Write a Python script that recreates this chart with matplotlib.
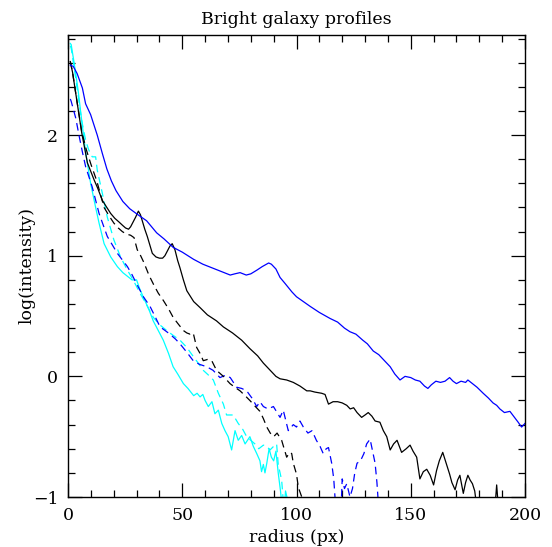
import matplotlib
matplotlib.use("Agg")
import matplotlib.pyplot as plt
from matplotlib.ticker import MultipleLocator

plt.rcParams['font.family'] = ['DejaVu Serif']
plt.rcParams['lines.scale_dashes'] = False

title = "Bright galaxy profiles"
xlabel = "radius (px)"
ylabel = "log(intensity)"

# Galaxy A (blue solid)
blue_solid_x = [1, 2.3, 4, 6.3, 7.7, 9.9, 12.8, 15, 17, 19, 21, 24, 27, 30.6, 34.4, 38.8, 42, 46, 50, 55,
                59, 63, 67, 71, 73, 75.3, 78, 80, 82.6, 85, 87.8, 89, 91, 92.8, 95, 98, 100, 103, 106, 110,
                114.7, 118, 121, 123.4, 126, 129, 131, 133.6, 136, 138.5, 141, 143, 145.3, 147.5, 150, 152,
                154, 156, 157.5, 159, 161, 163, 165, 167, 168.5, 170, 172, 174, 175, 177, 179, 181.7, 184,
                186, 187.6, 189, 191, 193.4, 195, 197, 198.5, 200]
blue_solid_y = [2.58, 2.57, 2.51, 2.39, 2.26, 2.17, 2.0, 1.85, 1.72, 1.62, 1.54, 1.45, 1.39, 1.34, 1.29,
                1.19, 1.14, 1.07, 1.03, 0.97, 0.93, 0.90, 0.87, 0.84, 0.85, 0.86, 0.84, 0.85, 0.88, 0.91,
                0.94, 0.93, 0.89, 0.82, 0.77, 0.70, 0.66, 0.62, 0.58, 0.53, 0.48, 0.45, 0.40, 0.37, 0.35,
                0.30, 0.27, 0.21, 0.18, 0.13, 0.08, 0.02, -0.03, 0.00, -0.01, -0.03, -0.04, -0.08, -0.10,
                -0.07, -0.04, -0.05, -0.04, -0.01, -0.04, -0.06, -0.04, -0.05, -0.03, -0.06, -0.09, -0.14,
                -0.18, -0.22, -0.24, -0.27, -0.30, -0.29, -0.33, -0.38, -0.42, -0.39]

# Galaxy B (black solid)
black_solid_x = [1, 2, 4, 6, 8.5, 11.4, 13, 15, 17, 18.7, 20.5, 22.3, 24, 25.2, 26.5, 27.4, 28.5, 29.6,
                 30.8, 31.7, 32.5, 33.6, 34.7, 35.8, 36.9, 38.5, 40, 41.4, 42.4, 43.5, 44.6, 45.6, 46.8,
                 48, 49, 50.5, 52, 55, 57.8, 61, 65, 68, 72, 76, 79.6, 83, 85.5, 87, 89, 91, 92.8, 95.7,
                 98.6, 101.5, 104.5, 106, 108, 111, 112.5, 114, 116, 118, 120, 122, 123.5, 125, 126.5,
                 128.5, 130, 131.4, 133, 134.4, 136.5, 138, 139.5, 141, 142.5, 144, 145, 146, 148, 149.7,
                 151, 152.6, 154, 155.5, 157, 158.5, 160, 161.3, 162.5, 164, 165.5, 167, 168, 169.4,
                 170.5, 171.5, 172.3, 173, 174, 175, 176, 177, 178, 179]
black_solid_y = [2.61, 2.52, 2.27, 2.02, 1.77, 1.63, 1.56, 1.46, 1.40, 1.35, 1.31, 1.28, 1.25, 1.23,
                 1.22, 1.24, 1.28, 1.32, 1.37, 1.34, 1.29, 1.22, 1.16, 1.09, 1.02, 0.99, 0.98, 0.98, 1.00,
                 1.04, 1.08, 1.10, 1.05, 0.96, 0.90, 0.80, 0.71, 0.62, 0.57, 0.51, 0.46, 0.41, 0.36, 0.30,
                 0.23, 0.17, 0.11, 0.08, 0.04, 0.00, -0.02, -0.03, -0.05, -0.08, -0.12, -0.12, -0.13,
                 -0.14, -0.15, -0.23, -0.21, -0.21, -0.22, -0.24, -0.27, -0.26, -0.30, -0.34, -0.32,
                 -0.30, -0.33, -0.37, -0.38, -0.45, -0.50, -0.61, -0.56, -0.53, -0.58, -0.63, -0.60,
                 -0.57, -0.62, -0.67, -0.85, -0.79, -0.77, -0.82, -0.90, -0.78, -0.70, -0.63, -0.72,
                 -0.81, -0.88, -0.94, -0.86, -0.82, -0.90, -0.97, -0.88, -0.82, -0.86, -0.89, -0.95, -1.1]
black_spike_x = [186.8, 187.6, 188.4]
black_spike_y = [-1.1, -0.90, -1.1]

# Galaxy B (black dashed)
black_dash_x = [1, 2, 4, 6, 8, 10, 12.6, 15.8, 18, 20.1, 22, 23.8, 25.5, 27.4, 28.9, 30.3, 31.8, 33.3,
                35.4, 37.5, 39.5, 41.7, 44, 46, 48, 50.5, 52, 53.4, 54.8, 56.3, 57.8, 59.2, 61, 62.9, 65,
                68, 70.9, 73, 75.3, 77.5, 79.6, 82, 84, 85.5, 87, 88.5, 90, 91.5, 93.5, 94.6, 95.7, 97,
                97.9, 98.6, 100, 100.8, 102.3, 103]
black_dash_y = [2.61, 2.52, 2.27, 2.03, 1.88, 1.76, 1.62, 1.40, 1.33, 1.27, 1.23, 1.20, 1.18, 1.17, 1.15,
                1.05, 1.00, 0.94, 0.84, 0.76, 0.69, 0.63, 0.56, 0.49, 0.44, 0.38, 0.36, 0.35, 0.36, 0.24,
                0.19, 0.13, 0.14, 0.13, 0.05, 0.0, -0.06, -0.09, -0.12, -0.16, -0.20, -0.25, -0.29, -0.35,
                -0.42, -0.47, -0.50, -0.47, -0.53, -0.60, -0.67, -0.63, -0.64, -0.72, -0.81, -0.92, -1.0, -1.1]

# Galaxy A (blue dashed)
blue_dash_x = [1, 1.4, 3.4, 4.8, 6.3, 7.7, 10.6, 13.6, 17.2, 21.6, 26, 28.1, 30.5, 33, 35.9, 38, 40.3,
               42.5, 44.6, 47, 49, 52, 54.8, 57.5, 60.7, 63.5, 66.5, 69, 71, 73.8, 76, 78.2, 80.5, 82.6,
               84, 85.5, 87.5, 89.9, 91.5, 92.8, 94.2, 96.4, 98.6, 100, 101.5, 103, 105, 106.8, 108.7,
               110.3, 111.7, 113, 114, 115.4, 116.3, 117.2]
blue_dash_y = [2.30, 2.28, 2.14, 2.0, 1.86, 1.74, 1.57, 1.35, 1.16, 1.02, 0.91, 0.84, 0.75, 0.66, 0.58,
               0.50, 0.41, 0.38, 0.35, 0.31, 0.27, 0.20, 0.13, 0.10, 0.08, 0.05, -0.01, 0.01, -0.01,
               -0.09, -0.10, -0.12, -0.18, -0.25, -0.21, -0.25, -0.27, -0.25, -0.30, -0.34, -0.28, -0.45,
               -0.40, -0.42, -0.37, -0.42, -0.47, -0.45, -0.53, -0.58, -0.64, -0.60, -0.59, -0.72, -0.85, -1.1]
blue_dash2_x = [119.5, 120, 121, 122, 123.4, 124.5, 125.5, 126.5, 128, 129.5, 130.7, 132.2, 133.3, 134.4,
                135.2, 136]
blue_dash2_y = [-1.1, -0.85, -0.93, -0.89, -1.0, -0.93, -0.80, -0.72, -0.70, -0.64, -0.56, -0.52, -0.62,
                -0.72, -0.88, -1.1]

# Galaxy C (cyan solid)
cyan_solid_x = [1, 1.4, 3, 4.5, 6, 7.7, 9.9, 12.1, 13.6, 15.8, 18.7, 21.6, 24, 26, 28, 30, 31.5, 33.6,
                35.5, 37.3, 39.5, 41.7, 44, 46, 48, 50.5, 52.5, 55, 56.5, 57.8, 59, 60, 61.4, 63, 64.3,
                65.8, 67.3, 68.7, 70.1, 71.6, 73.1, 74.5, 76, 77.5, 79.6, 81.1, 82.6, 84, 84.7, 85.5,
                86.2, 87, 88, 89, 90, 91, 92, 93, 93.8]
cyan_solid_y = [2.76, 2.75, 2.56, 2.36, 2.12, 1.86, 1.60, 1.40, 1.27, 1.10, 0.99, 0.91, 0.86, 0.83, 0.80,
                0.80, 0.72, 0.63, 0.55, 0.46, 0.38, 0.30, 0.19, 0.08, 0.02, -0.06, -0.10, -0.16, -0.14,
                -0.17, -0.15, -0.20, -0.25, -0.21, -0.31, -0.28, -0.39, -0.45, -0.50, -0.61, -0.45, -0.53,
                -0.49, -0.56, -0.50, -0.58, -0.64, -0.70, -0.79, -0.73, -0.80, -0.72, -0.60, -0.67,
                -0.70, -0.62, -0.80, -0.95, -1.1]
cyan_solid2_x = [94.6, 95.2, 95.8, 96.4]
cyan_solid2_y = [-1.1, -0.95, -1.0, -1.1]

# Galaxy C (cyan dashed)
cyan_dash_x = [1, 1.4, 3, 4.5, 6, 7.7, 9, 10.6, 12.1, 12.8, 15, 17.2, 20.1, 23, 26, 28.5, 31.5, 34.5,
               37.3, 40, 43.2, 46, 49, 52, 55, 57, 59.2, 61.5, 63.6, 65.8, 68, 69.4, 72.3, 74.5, 76.5,
               78.2, 80, 81.8, 83.5, 85.5, 87, 88.4, 90, 91.3, 92, 93.5, 94.5]
cyan_dash_y = [2.74, 2.72, 2.52, 2.32, 2.12, 1.96, 1.88, 1.82, 1.82, 1.71, 1.52, 1.32, 1.13, 0.99, 0.88,
               0.80, 0.69, 0.59, 0.49, 0.43, 0.38, 0.34, 0.30, 0.24, 0.16, 0.11, 0.05, 0.01, -0.03, -0.14,
               -0.23, -0.32, -0.32, -0.39, -0.44, -0.50, -0.53, -0.56, -0.60, -0.57, -0.58, -0.61, -0.58,
               -0.56, -0.73, -0.86, -1.1]

fig = plt.figure(figsize=(5.52, 5.47), dpi=100)
ax = fig.add_axes([68 / 552, 50 / 547, 457 / 552, 462 / 547])

lw = 0.9
dash = (5.5, 3.5)
ax.plot(cyan_solid_x, cyan_solid_y, color='#00ffff', lw=lw)
ax.plot(cyan_solid2_x, cyan_solid2_y, color='#00ffff', lw=lw)
ax.plot(cyan_dash_x, cyan_dash_y, color='#00ffff', lw=lw, dashes=dash)
ax.plot(blue_dash_x, blue_dash_y, color='#0000ff', lw=lw, dashes=dash)
ax.plot(blue_dash2_x, blue_dash2_y, color='#0000ff', lw=lw, dashes=dash)
ax.plot(black_dash_x, black_dash_y, color='black', lw=lw, dashes=dash)
ax.plot(black_solid_x, black_solid_y, color='black', lw=lw)
ax.plot(black_spike_x, black_spike_y, color='black', lw=lw)
ax.plot(blue_solid_x, blue_solid_y, color='#0000ff', lw=lw)

ax.set_xlim(0, 200)
ax.set_ylim(-1, 2.83)
ax.xaxis.set_major_locator(MultipleLocator(50))
ax.xaxis.set_minor_locator(MultipleLocator(10))
ax.yaxis.set_major_locator(MultipleLocator(1))
ax.yaxis.set_minor_locator(MultipleLocator(0.2))
ax.tick_params(which='both', direction='in', top=True, right=True, width=0.9, labelsize=12.5)
ax.tick_params(which='major', length=10, pad=7)
ax.tick_params(which='minor', length=5)
for s in ax.spines.values():
    s.set_linewidth(1.0)

ax.set_title(title, fontsize=12.5, pad=8)
ax.set_xlabel(xlabel, fontsize=12.5, va='center')
ax.xaxis.set_label_coords(0.5, -(537 - 497) / 462)
ax.set_ylabel(ylabel, fontsize=12.5, va='center')
ax.yaxis.set_label_coords(-(68 - 27) / 457, 0.5)

fig.savefig("out.png", dpi=100)
